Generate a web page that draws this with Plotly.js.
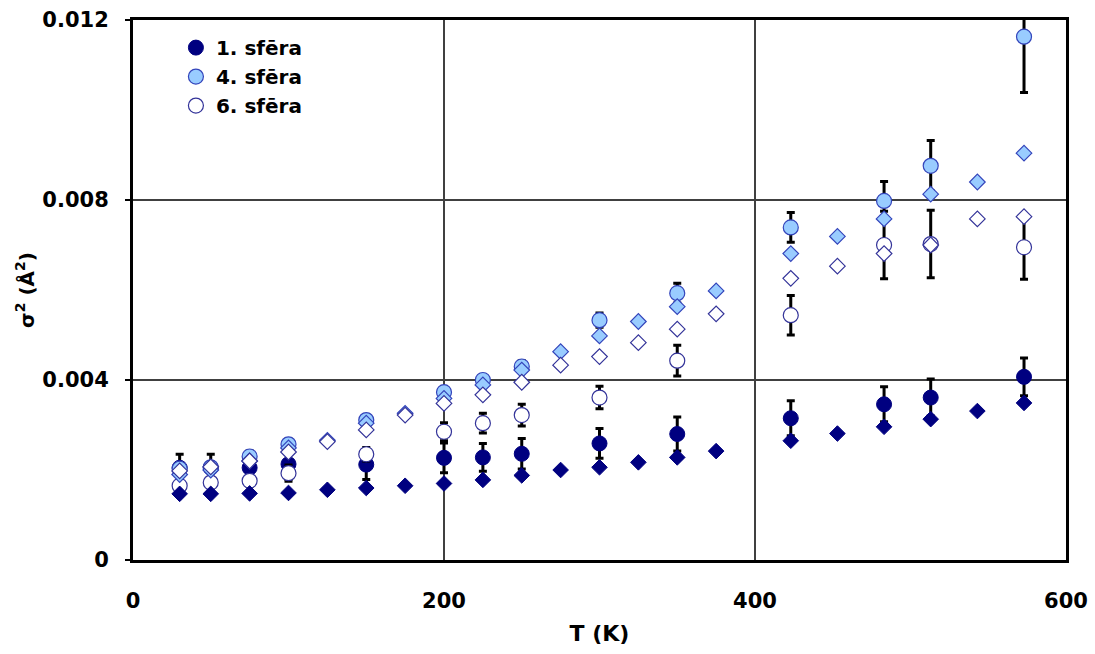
<!DOCTYPE html>
<html>
<head>
<meta charset="utf-8">
<script src="https://cdn.plot.ly/plotly-3.0.1.min.js"></script>
<style>
  html, body { margin: 0; padding: 0; background: #fff; }
  #chart { width: 1095px; height: 654px; }
</style>
</head>
<body>
<div id="chart"></div>
<script>
// Measured temperatures (K) and Debye-Waller factors σ² (Å²) with uncertainties
const T_exp = [30, 50, 75, 100, 150, 200, 225, 250, 300, 350, 423, 483, 513, 573];
const s1_exp = [0.00205, 0.00205, 0.00205, 0.00213, 0.00212, 0.00227, 0.00228, 0.00236, 0.00259, 0.0028, 0.00315, 0.00346, 0.00361, 0.00407];
const s1_err = [0.0003, 0.0003, 0.0003, 0.00033, 0.00033, 0.00033, 0.00031, 0.00034, 0.00033, 0.00038, 0.00039, 0.00039, 0.00041, 0.00042];
const s4_exp = [0.00203, 0.00206, 0.0023, 0.00257, 0.00311, 0.00373, 0.004, 0.0043, 0.00533, 0.00593, 0.00739, 0.00798, 0.00876, 0.01163];
const s4_err = [0.00012, 0.00012, 0.00012, 0.00012, 0.00012, 0.00012, 0.00012, 0.00013, 0.00016, 0.00022, 0.00033, 0.00043, 0.00056, 0.00124];
const s6_exp = [0.00165, 0.00172, 0.00176, 0.00193, 0.00235, 0.00285, 0.00304, 0.00322, 0.00361, 0.00443, 0.00544, 0.007, 0.00702, 0.00695];
const s6_err = [0.00012, 0.00012, 0.00012, 0.00018, 0.00015, 0.0002, 0.00022, 0.00024, 0.00025, 0.00034, 0.00044, 0.00075, 0.00075, 0.00071];

// Simulated values (diamonds)
const T_sim = [30, 50, 75, 100, 125, 150, 175, 200, 225, 250, 275, 300, 325, 350, 375, 423, 453, 483, 513, 543, 573];
const s1_sim = [0.00147, 0.00147, 0.00148, 0.00149, 0.00156, 0.0016, 0.00165, 0.0017, 0.00178, 0.00188, 0.002, 0.00206, 0.00217, 0.00228, 0.00242, 0.00265, 0.00281, 0.00296, 0.00313, 0.00331, 0.00349];
const s4_sim = [0.0019, 0.002, 0.0022, 0.00249, 0.00266, 0.00304, 0.00326, 0.00359, 0.00389, 0.00422, 0.00463, 0.00498, 0.0053, 0.00563, 0.00598, 0.00681, 0.00719, 0.00758, 0.00813, 0.0084, 0.00904];
const s6_sim = [0.00198, 0.00207, 0.0022, 0.0024, 0.00263, 0.00289, 0.00322, 0.00348, 0.00367, 0.00395, 0.00433, 0.00452, 0.00483, 0.00513, 0.00547, 0.00626, 0.00653, 0.00681, 0.007, 0.00758, 0.00763];

const seriesNames = ['1. sfēra', '4. sfēra', '6. sfēra'];
const xTicks = [0, 200, 400, 600];
const yTicks = [0, 0.004, 0.008, 0.012];

const NAVY = '#000080';
const LIGHT = '#99CCFF';
const LIGHT_EDGE = '#3344bb';
const OPEN_EDGE = '#333399';

const FONT = 'DejaVu Sans, Arial, sans-serif';

function errBar(arr) {
  return { type: 'data', array: arr, visible: true, color: '#000', thickness: 3, width: 4 };
}

const traces = [
  { x: T_exp, y: s1_exp, name: seriesNames[0], mode: 'markers', type: 'scatter',
    marker: { symbol: 'circle', size: 15, color: NAVY, line: { color: NAVY, width: 1 } },
    error_y: errBar(s1_err) },
  { x: T_exp, y: s4_exp, name: seriesNames[1], mode: 'markers', type: 'scatter',
    marker: { symbol: 'circle', size: 15, color: LIGHT, line: { color: LIGHT_EDGE, width: 1.2 } },
    error_y: errBar(s4_err) },
  { x: T_exp, y: s6_exp, name: seriesNames[2], mode: 'markers', type: 'scatter',
    marker: { symbol: 'circle', size: 15, color: '#ffffff', line: { color: OPEN_EDGE, width: 1.2 } },
    error_y: errBar(s6_err) },
  { x: T_sim, y: s1_sim, name: seriesNames[0] + ' sim', mode: 'markers', type: 'scatter', showlegend: false,
    marker: { symbol: 'diamond', size: 12, color: NAVY, line: { color: NAVY, width: 1 } } },
  { x: T_sim, y: s4_sim, name: seriesNames[1] + ' sim', mode: 'markers', type: 'scatter', showlegend: false,
    marker: { symbol: 'diamond', size: 12, color: LIGHT, line: { color: LIGHT_EDGE, width: 1.2 } } },
  { x: T_sim, y: s6_sim, name: seriesNames[2] + ' sim', mode: 'markers', type: 'scatter', showlegend: false,
    marker: { symbol: 'diamond', size: 12, color: '#ffffff', line: { color: OPEN_EDGE, width: 1.2 } } }
];

const layout = {
  width: 1095, height: 654,
  margin: { l: 133, r: 29, t: 20, b: 94 },
  paper_bgcolor: '#fff', plot_bgcolor: '#fff',
  font: { family: FONT, color: '#000', size: 21, weight: 'bold' },
  showlegend: true,
  legend: {
    x: 0.046, y: 0.985, xanchor: 'left', yanchor: 'top',
    bgcolor: 'rgba(0,0,0,0)', borderwidth: 0,
    font: { family: FONT, size: 20, weight: 'bold', color: '#000' },
    tracegroupgap: 0
  },
  xaxis: {
    range: [0, 600], tickvals: xTicks, ticktext: xTicks.map(String),
    showgrid: true, gridcolor: '#404040', gridwidth: 1.4,
    showline: true, linecolor: '#000', linewidth: 3, mirror: true,
    zeroline: false, ticks: '', ticklabelstandoff: 20,
    tickfont: { family: FONT, size: 21, weight: 'bold' },
    title: { text: 'T (K)', font: { family: FONT, size: 22, weight: 'bold' }, standoff: 14 }
  },
  yaxis: {
    range: [0, 0.012], tickvals: yTicks, ticktext: ['0', '0.004', '0.008', '0.012'],
    showgrid: true, gridcolor: '#404040', gridwidth: 1.4,
    showline: true, linecolor: '#000', linewidth: 3, mirror: true,
    zeroline: false, ticks: 'outside', ticklen: 5, tickwidth: 2, tickcolor: '#000',
    ticklabelstandoff: 12,
    tickfont: { family: FONT, size: 21, weight: 'bold' },
    title: { text: 'σ<sup>2</sup> (Å<sup>2</sup>)', font: { family: FONT, size: 20, weight: 'bold' }, standoff: 3 }
  }
};

Plotly.newPlot('chart', traces, layout, { displayModeBar: false, staticPlot: true });
</script>
</body>
</html>
